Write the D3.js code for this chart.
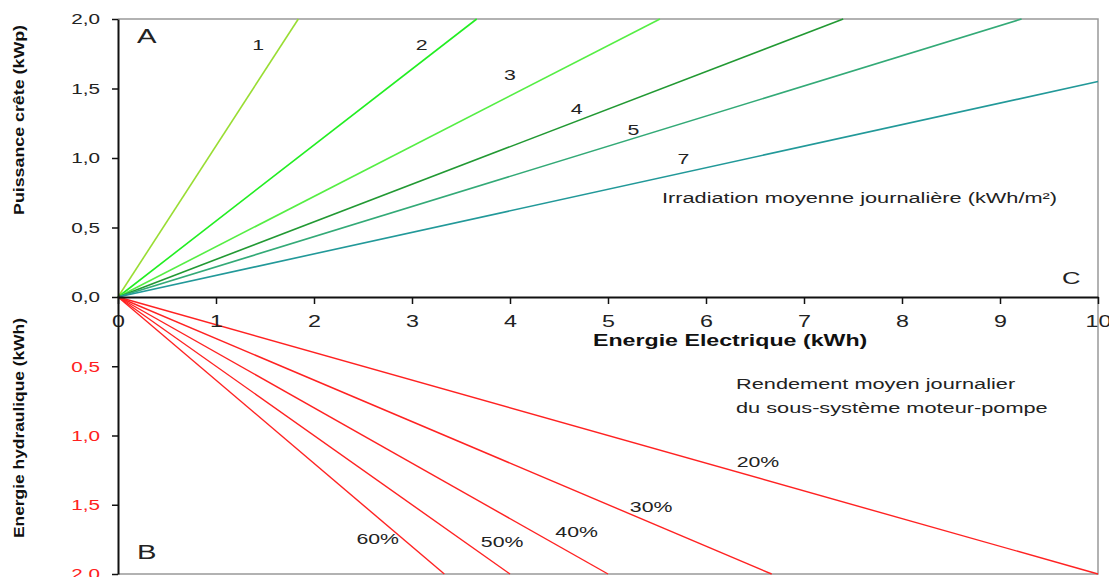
<!DOCTYPE html>
<html>
<head>
<meta charset="utf-8">
<script src="https://cdn.jsdelivr.net/npm/d3@7"></script>
<style>
  body { margin: 0; background: #fff; }
  svg { display: block; font-family: "Liberation Sans", Arial, sans-serif; }
</style>
</head>
<body>
<svg id="chart" width="1109" height="577"></svg>
<script>
// Panel A: peak PV power needed vs electric energy, one line per daily irradiation
const irradiation = ["1", "2", "3", "4", "5", "7"];
const irrEndEnergy = [1.84, 3.66, 5.53, 7.40, 9.22, 10];   // kWh at the line end
const irrEndPower  = [2.0, 2.0, 2.0, 2.0, 2.0, 1.55];      // kWp at the line end
const irrColors = ["#99dd33", "#22ee22", "#55ee44", "#229933", "#33aa77", "#229999"];
// label anchor points, in data units (kWh, kWp)
const irrLabelPos = [[1.43, 1.78], [3.10, 1.78], [4.0, 1.56], [4.68, 1.32], [5.26, 1.165], [5.77, 0.957]];

// Panel B: hydraulic energy vs electric energy, one line per pump efficiency
const efficiency = ["20%", "30%", "40%", "50%", "60%"];
const effEndEnergy = [10, 6.67, 5.0, 4.0, 3.33];
const effEndHydro  = [2.0, 2.0, 2.0, 2.0, 2.0];
const effLabelPos = [[6.53, 1.227], [5.44, 1.552], [4.68, 1.733], [3.92, 1.805], [2.65, 1.783]];

const xTicks = [0, 1, 2, 3, 4, 5, 6, 7, 8, 9, 10];
const yTopTicks = [0, 0.5, 1.0, 1.5, 2.0];
const yBotTicks = [0.5, 1.0, 1.5, 2.0];

const SX = 1.42;   // wide lettering: horizontal stretch applied to all horizontal text

const svg = d3.select("#chart");
const x = d3.scaleLinear().domain([0, 10]).range([118, 1098]);
const yTop = d3.scaleLinear().domain([0, 2]).range([297, 19]);
const yBot = d3.scaleLinear().domain([0, 2]).range([297, 574]);
const fmt = d => d3.format(".1f")(d).replace(".", ",");

function label(px, py, txt, size, opts = {}) {
  return svg.append("text")
    .attr("transform", `translate(${px},${py}) scale(${opts.sx || SX},1)`)
    .attr("text-anchor", opts.anchor || "start")
    .attr("font-size", size)
    .attr("font-weight", opts.weight || "normal")
    .attr("fill", opts.fill || "#222")
    .text(txt);
}

// frame
svg.append("path")
  .attr("d", `M${x(0)},${yTop(2)}H${x(10)}V${yBot(2)}H${x(0)}`)
  .attr("fill", "none").attr("stroke", "#999").attr("stroke-width", 1.5);

// lines, panel A
const line = d3.line();
irradiation.forEach((h, i) => {
  svg.append("path")
    .attr("d", line([[x(0), yTop(0)], [x(irrEndEnergy[i]), yTop(irrEndPower[i])]]))
    .attr("stroke", irrColors[i]).attr("stroke-width", 1.6).attr("fill", "none");
  label(x(irrLabelPos[i][0]), yTop(irrLabelPos[i][1]), h, 15, { anchor: "middle" });
});

// lines, panel B
efficiency.forEach((e, i) => {
  svg.append("path")
    .attr("d", line([[x(0), yBot(0)], [x(effEndEnergy[i]), yBot(effEndHydro[i])]]))
    .attr("stroke", "#ff2222").attr("stroke-width", 1.4).attr("fill", "none");
  label(x(effLabelPos[i][0]), yBot(effLabelPos[i][1]), e, 15, { anchor: "middle" });
});

// x axis on the zero line
const gx = svg.append("g").attr("transform", `translate(0,${yTop(0)})`)
  .call(d3.axisBottom(x).tickValues(xTicks).tickFormat(d3.format("d")).tickSize(7).tickSizeOuter(0));
gx.select(".domain").attr("stroke", "#111").attr("stroke-width", 2);
gx.selectAll(".tick line").attr("stroke", "#111").attr("stroke-width", 1.5);
gx.selectAll(".tick text")
  .attr("y", null).attr("dy", null)
  .attr("transform", `translate(0,30) scale(1.37,1)`)
  .attr("font-size", 17).attr("fill", "#222")
  .attr("font-family", "Liberation Sans, Arial, sans-serif");

// left axis, panel A
const gyT = svg.append("g").attr("transform", `translate(${x(0)},0)`)
  .call(d3.axisLeft(yTop).tickValues(yTopTicks).tickFormat(fmt).tickSize(6).tickSizeOuter(0));
gyT.selectAll(".tick text").attr("fill", "#222");

// left axis, panel B
const gyB = svg.append("g").attr("transform", `translate(${x(0)},0)`)
  .call(d3.axisLeft(yBot).tickValues(yBotTicks).tickFormat(fmt).tickSize(6).tickSizeOuter(0));
gyB.selectAll(".tick text").attr("fill", "#ff2020");

[gyT, gyB].forEach(g => {
  g.select(".domain").attr("stroke", "#111").attr("stroke-width", 2);
  g.selectAll(".tick line").attr("stroke", "#111").attr("stroke-width", 1.5);
  g.selectAll(".tick text")
    .attr("x", null)
    .attr("transform", `translate(-18,0) scale(1.38,1)`)
    .attr("font-size", 15)
    .attr("font-family", "Liberation Sans, Arial, sans-serif");
});

// axis titles
svg.append("text")
  .attr("transform", `translate(24,120) rotate(-90)`)
  .attr("text-anchor", "middle").attr("font-size", 15).attr("font-weight", "bold").attr("fill", "#111")
  .attr("textLength", 190).attr("lengthAdjust", "spacingAndGlyphs")
  .text("Puissance crête (kWp)");
svg.append("text")
  .attr("transform", `translate(24,428) rotate(-90)`)
  .attr("text-anchor", "middle").attr("font-size", 15).attr("font-weight", "bold").attr("fill", "#111")
  .attr("textLength", 220).attr("lengthAdjust", "spacingAndGlyphs")
  .text("Energie hydraulique (kWh)");
label(593, 346, "Energie Electrique (kWh)", 16, { weight: "bold", fill: "#111", sx: 1.45 });

// panel letters
label(137, 43, "A", 19.5, { sx: 1.5 });
label(137, 559, "B", 19.5, { sx: 1.5 });
label(1062, 284, "C", 16, { sx: 1.6 });

// annotations
label(662, 203, "Irradiation moyenne journalière (kWh/m²)", 15, { sx: 1.45 });
label(736, 389, "Rendement moyen journalier", 15, { sx: 1.45 });
label(736, 413, "du sous-système moteur-pompe", 15, { sx: 1.45 });
</script>
</body>
</html>
